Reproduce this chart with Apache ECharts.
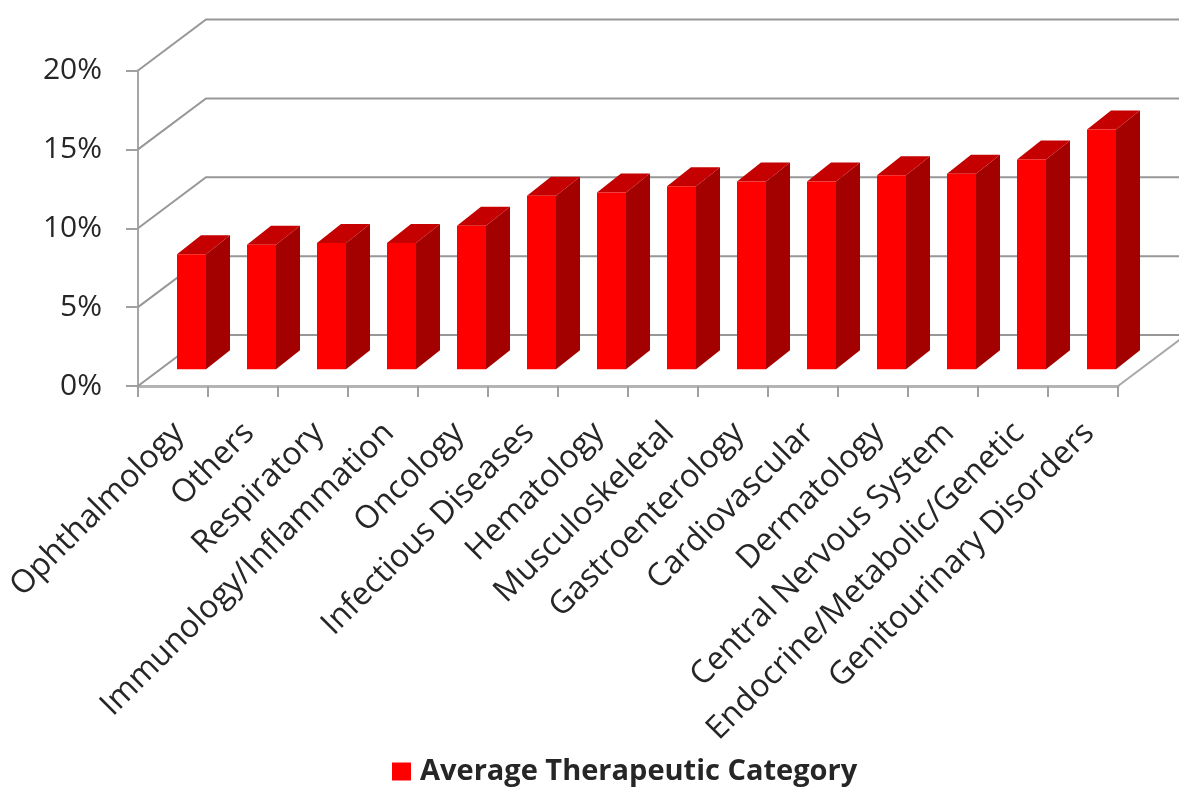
<!DOCTYPE html>
<html>
<head>
<meta charset="utf-8">
<script src="https://cdn.jsdelivr.net/npm/echarts@6/dist/echarts.min.js"></script>
<style>
  html, body { margin: 0; padding: 0; background: #ffffff; }
  #chart { width: 1179px; height: 787px; }
</style>
</head>
<body>
<div id="chart"></div>
<script>
// Therapeutic categories, in display order
const categories = [
  'Ophthalmology', 'Others', 'Respiratory', 'Immunology/Inflammation',
  'Oncology', 'Infectious Diseases', 'Hematology', 'Musculoskeletal',
  'Gastroenterology', 'Cardiovascular', 'Dermatology',
  'Central Nervous System', 'Endocrine/Metabolic/Genetic', 'Genitourinary Disorders'
];
// Average value per category (%)
const averageValues = [7.3, 7.9, 8.0, 8.0, 9.1, 11.0, 11.2, 11.6, 11.9, 11.9, 12.3, 12.4, 13.3, 15.2];
// Value-axis ticks (%)
const yTicks = [0, 5, 10, 15, 20];
const seriesName = 'Average Therapeutic Category';

// 3D look: depth of the floor / back wall, and of each bar
const WALL_DX = 68, WALL_DY = -51;
const BAR_DX = 24, BAR_DY = -19;
const BAR_SHIFT_X = 18.5, BAR_SHIFT_Y = -16.7, BAR_W = 29;

const FONT = '"Open Sans", "Noto Sans", sans-serif';
const GRID_COLOR = '#979797';

const chart = echarts.init(document.getElementById('chart'), null, { renderer: 'canvas' });

function renderWall(params, api) {
  const cs = params.coordSys;
  const v = api.value(1);
  const p = api.coord([0, v]);
  const y = p[1];
  const x0 = cs.x;
  const children = [{
    type: 'polyline',
    shape: { points: [[x0, y], [x0 + WALL_DX, y + WALL_DY], [api.getWidth() + 10, y + WALL_DY]] },
    style: { stroke: GRID_COLOR, lineWidth: 2, fill: null }
  }];
  if (v === 0) {
    const xr = cs.x + cs.width;
    children.push({
      type: 'line',
      shape: { x1: xr, y1: y, x2: xr + WALL_DX, y2: y + WALL_DY },
      style: { stroke: '#a8a8a8', lineWidth: 2 }
    });
  }
  return { type: 'group', children: children };
}

function renderBar(params, api) {
  const i = api.value(0);
  const v = api.value(1);
  const base = api.coord([i, 0]);
  const top = api.coord([i, v]);
  const cx = base[0] + BAR_SHIFT_X;
  const x1 = cx - BAR_W / 2, x2 = cx + BAR_W / 2;
  const yb = base[1] + BAR_SHIFT_Y;
  const yt = top[1] + BAR_SHIFT_Y;
  return {
    type: 'group',
    children: [
      { type: 'polygon',
        shape: { points: [[x2, yt], [x2 + BAR_DX, yt + BAR_DY], [x2 + BAR_DX, yb + BAR_DY], [x2, yb]] },
        style: { fill: '#a30000' } },
      { type: 'polygon',
        shape: { points: [[x1, yt], [x1 + BAR_DX, yt + BAR_DY], [x2 + BAR_DX, yt + BAR_DY], [x2, yt]] },
        style: { fill: '#c40000' } },
      { type: 'rect',
        shape: { x: x1, y: yt, width: BAR_W, height: yb - yt },
        style: { fill: '#ff0000' } }
    ]
  };
}

const option = {
  backgroundColor: '#ffffff',
  animation: false,
  grid: [
    { left: 138, right: 61, top: 70.5, bottom: 401 },
    // labels-only grid, nudged right so rotated names end beside their ticks
    { left: 144, right: 55, top: 70.5, bottom: 401 }
  ],
  xAxis: [
    {
      type: 'category', gridIndex: 0, data: categories, boundaryGap: true,
      axisLine: { show: true, lineStyle: { color: '#b4b4b4', width: 3 } },
      axisTick: { show: true, interval: 0, length: 11, lineStyle: { color: '#a0a0a0', width: 2 } },
      axisLabel: { show: false },
      splitLine: { show: false }
    },
    {
      type: 'category', gridIndex: 1, data: categories, boundaryGap: true,
      axisLine: { show: false }, axisTick: { show: false }, splitLine: { show: false },
      axisLabel: {
        show: true, interval: 0, rotate: 45, margin: 42,
        fontFamily: FONT, fontSize: 32, color: '#262626'
      }
    }
  ],
  yAxis: [
    {
      type: 'value', gridIndex: 0, min: 0, max: 20, interval: 5,
      axisLine: { show: true, lineStyle: { color: '#a6a6a6', width: 2 } },
      axisTick: { show: true, length: 12, lineStyle: { color: '#a0a0a0', width: 2 } },
      axisLabel: {
        formatter: '{value}%', margin: 36,
        fontFamily: FONT, fontSize: 30, color: '#262626'
      },
      splitLine: { show: false }
    },
    {
      type: 'value', gridIndex: 1, min: 0, max: 20, interval: 5, show: false
    }
  ],
  legend: {
    data: [{ name: seriesName, icon: 'rect' }],
    left: 392, top: 757, padding: 0,
    itemWidth: 19, itemHeight: 18,
    textStyle: {
      fontFamily: FONT, fontSize: 29, fontWeight: 'bold', color: '#262626',
      padding: [0, 0, 0, 4]
    }
  },
  series: [
    {
      type: 'custom', name: 'walls', xAxisIndex: 0, yAxisIndex: 0,
      silent: true, z: 1,
      renderItem: renderWall,
      data: yTicks.map(function (t) { return [0, t]; })
    },
    {
      type: 'custom', name: seriesName, xAxisIndex: 0, yAxisIndex: 0,
      z: 3,
      itemStyle: { color: '#ff0000' },
      renderItem: renderBar,
      encode: { x: 0, y: 1 },
      data: averageValues.map(function (v, i) { return [i, v]; })
    }
  ]
};

chart.setOption(option);
</script>
</body>
</html>
